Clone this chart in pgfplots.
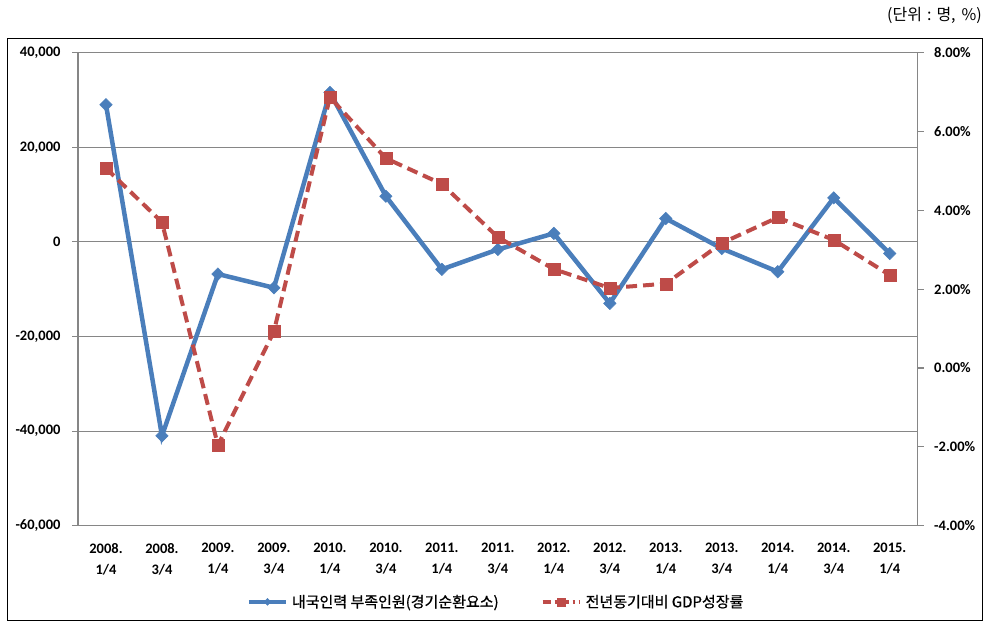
\documentclass[border=0pt]{standalone}
\usepackage{fontspec}
\usepackage{pgfplots}
\pgfplotsset{compat=1.18}
\setmainfont{Carlito}
\newfontfamily\kr{Noto Sans CJK KR}
\newfontfamily\krb{Noto Sans CJK KR}[FakeBold=0.8]
\definecolor{sblue}{HTML}{4A7EBB}
\definecolor{sred}{HTML}{BE4B48}
\definecolor{gridgray}{HTML}{868686}
\pgfplotstableread{
x emp gdp
0 29000 5.07
1 -41000 3.70
2 -6800 -1.96
3 -9700 0.93
4 31600 6.87
5 9650 5.32
6 -5800 4.67
7 -1600 3.32
8 1800 2.51
9 -13000 2.03
10 4950 2.14
11 -1400 3.17
12 -6300 3.82
13 9300 3.25
14 -2450 2.36
}\datatable
\begin{document}
\begin{tikzpicture}[x=1pt,y=1pt]
\path[use as bounding box] (0,0) rectangle (992,633);
\draw[black, line width=1pt] (7.5,12.3) rectangle (982.5,594.7);
\node[anchor=east, inner sep=0pt] at (982,618) {\kr\fontsize{16}{18}\selectfont (단위\hspace{5pt}:\hspace{5pt}명,\hspace{6pt}\%)};
\pgfplotsset{
  base/.style={
    scale only axis, width=839.7pt, height=473pt,
    at={(78pt,107.3pt)}, anchor=south west,
    xmin=-0.5, xmax=14.5,
    tick align=outside, major tick length=6pt,
    tick label style={font=\fontsize{14.5}{21}\selectfont\bfseries, text=black},
    axis line style={gridgray, line width=1.1pt},
    every tick/.style={gridgray, line width=1.1pt},
  }
}
\begin{axis}[base,
  axis x line*=bottom, axis y line*=left,
  ymin=-60000, ymax=40000, scaled y ticks=false,
  ytick={-60000,-40000,-20000,0,20000,40000},
  yticklabels={{-60,000},{-40,000},{-20,000},0,{20,000},{40,000}},
  ymajorgrids, grid style={gridgray, line width=1.1pt},
  xtick={0,...,14}, xtick style={draw=none},
  xticklabels={{2008.\\1/4},{2008.\\3/4},{2009.\\1/4},{2009.\\3/4},{2010.\\1/4},{2010.\\3/4},{2011.\\1/4},{2011.\\3/4},{2012.\\1/4},{2012.\\3/4},{2013.\\1/4},{2013.\\3/4},{2014.\\1/4},{2014.\\3/4},{2015.\\1/4}},
  xticklabel style={align=center, yshift=-8pt},
  yticklabel style={xshift=-8pt},
]
\addplot[sblue, line width=4.5pt, mark=square*, mark size=4.4pt, mark options={rotate=45, solid, line width=0.5pt}] table[x=x,y=emp]{\datatable};
\end{axis}
\begin{axis}[base,
  axis x line=none, axis y line*=right,
  ymin=-4, ymax=8,
  ytick={-4,-2,0,2,4,6,8},
  yticklabels={-4.00\%,-2.00\%,0.00\%,2.00\%,4.00\%,6.00\%,8.00\%},
  yticklabel style={anchor=west, xshift=7pt},
  legend columns=2,
  legend style={at={(0.498,-0.161)}, anchor=center, draw=none, fill=none,
    font=\krb\fontsize{15}{16}\selectfont, inner sep=0pt,
    /tikz/every odd column/.append style={column sep=2pt},
    /tikz/every even column/.append style={column sep=40pt}},
  legend image code/.code={\draw[mark repeat=2, mark phase=2, #1] plot coordinates {(0pt,0pt) (18.5pt,0pt) (37pt,0pt)};},
]
\addlegendimage{sblue, line width=4pt, mark=square*, mark size=2.5pt, mark options={rotate=45, solid, line width=0.3pt}}
\addlegendentry{내국인력 부족인원(경기순환요소)}
\addlegendimage{sred, line width=4pt, dash pattern=on 8pt off 4pt on 2pt off 4pt, mark=square*, mark size=4pt, mark options={solid, line width=0.3pt}}
\addlegendentry{전년동기대비 GDP성장률}
\addplot[forget plot, sred, line width=4pt, dash pattern=on 11pt off 6pt, mark=square*, mark size=6pt, mark options={solid, line width=0.3pt}] table[x=x,y=gdp]{\datatable};
\end{axis}
\end{tikzpicture}
\end{document}
